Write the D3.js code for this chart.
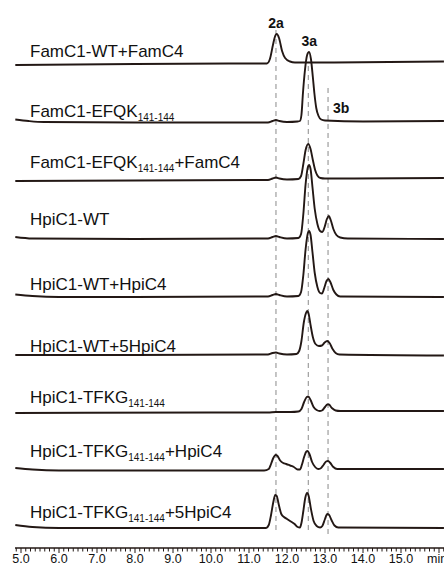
<!DOCTYPE html>
<html>
<head>
<meta charset="utf-8">
<script src="https://cdn.jsdelivr.net/npm/d3@7"></script>
<style>
  body { margin: 0; background: #fff; }
  svg { display: block; }
</style>
</head>
<body>
<svg id="chart" width="444" height="568"></svg>
<script>
//----------------------------------------------------------- DATA
// sample names (main part + subscript + suffix)
var sampleNames = [
  ["FamC1-WT+FamC4", "", ""],
  ["FamC1-EFQK", "141-144", ""],
  ["FamC1-EFQK", "141-144", "+FamC4"],
  ["HpiC1-WT", "", ""],
  ["HpiC1-WT+HpiC4", "", ""],
  ["HpiC1-WT+5HpiC4", "", ""],
  ["HpiC1-TFKG", "141-144", ""],
  ["HpiC1-TFKG", "141-144", "+HpiC4"],
  ["HpiC1-TFKG", "141-144", "+5HpiC4"]
];

// traces: [retention time (min), signal]
var famWtFam4 = [[4.85,0],[8,1],[11.4,1.5],[11.47,1.5],[11.55,6],[11.63,20],[11.68,28],[11.73,31],[11.79,27],[11.87,14],
  [11.95,7],[12.08,3.5],[12.21,2.5],[13,2.5],[16.13,3.5]];
var famEfqk = [[4.85,3.5],[5.2,2],[5.6,1],[8,0.5],[11.5,0.5],[11.62,2],[11.71,3],[11.8,2],[12.0,1],[12.28,1.5],
  [12.34,2],[12.38,8],[12.42,30],[12.47,52],[12.53,68],[12.58,71],[12.63,64],[12.68,46],[12.72,30],[12.77,15],
  [12.83,7],[12.9,3.5],[13.0,2.5],[14,1.5],[16.13,2]];
var famEfqkFam4 = [[4.85,0],[8,0.5],[11.5,1],[11.62,2.5],[11.71,3.5],[11.8,2.5],[12.0,1.5],[12.3,2],[12.37,5],
  [12.43,17],[12.49,31],[12.56,37],[12.62,32],[12.68,21],[12.74,11],[12.8,5.5],[12.88,3],[13.0,2.5],[16.13,3]];
var hpiWt = [[4.85,2],[5.3,0.5],[8,0],[11.5,0.5],[11.62,2],[11.71,3],[11.8,2],[12.0,0.5],[12.3,1],[12.37,5],
  [12.43,25],[12.49,55],[12.55,72],[12.58,74],[12.62,70],[12.67,52],[12.73,30],[12.8,15],[12.87,8],[12.93,7],
  [12.99,12],[13.05,20],[13.1,23],[13.15,19],[13.22,10],[13.3,4],[13.4,1.5],[13.6,0.5],[16.13,0]];
var hpiWtHpi4 = [[4.85,2.5],[5.3,1],[6,0],[11.5,0.5],[11.62,2],[11.71,3],[11.8,2],[12.0,0.5],[12.3,1],[12.37,5],
  [12.43,22],[12.49,48],[12.55,64],[12.58,66],[12.62,62],[12.67,45],[12.73,24],[12.8,10],[12.87,4],[12.92,3.5],
  [12.98,9],[13.04,16],[13.09,18],[13.14,15],[13.22,7],[13.3,2.5],[13.4,0.5],[16.13,0]];
var hpiWt5Hpi4 = [[4.85,0],[8,0],[11.5,0.5],[11.62,2],[11.71,2.5],[11.8,1.5],[12.0,0.5],[12.25,1],[12.32,4],
  [12.38,14],[12.44,32],[12.5,42],[12.53,44],[12.57,41],[12.62,30],[12.68,18],[12.75,11],[12.84,9],[12.92,9.5],
  [12.99,12.5],[13.06,14],[13.12,12],[13.2,6],[13.28,2],[13.38,0.5],[16.13,-0.5]];
var hpiTfkg = [[4.85,0],[10,0.5],[11.5,0.5],[11.71,1],[12.1,1],[12.3,1.5],[12.38,4],[12.45,11],[12.52,16],
  [12.56,16.5],[12.62,13],[12.7,6],[12.78,3],[12.86,2],[12.92,2.5],[13.0,6],[13.06,8.5],[13.1,8.5],[13.18,5],
  [13.28,2.5],[13.4,2],[16.13,2]];
var hpiTfkgHpi4 = [[4.85,3],[5.3,1.5],[6,0.5],[11.4,0.5],[11.52,2],[11.58,7],[11.64,13],[11.7,16],[11.75,15],
  [11.82,10.5],[11.9,8],[11.98,7],[12.08,5.5],[12.18,4],[12.28,1.5],[12.34,1.5],[12.39,6],[12.45,14],[12.51,19.5],
  [12.54,20],[12.59,17],[12.66,9],[12.74,4],[12.82,2],[12.88,2.5],[12.96,6],[13.03,9.5],[13.08,10],[13.14,8],
  [13.22,4],[13.32,2],[16.13,2]];
var hpiTfkg5Hpi4 = [[4.85,4],[5.3,2],[6,1],[11.45,1],[11.52,4],[11.58,14],[11.64,27],[11.69,34],[11.73,33],
  [11.78,25],[11.85,15],[11.92,12],[12.0,10],[12.1,7.5],[12.2,5],[12.28,2],[12.34,1.5],[12.38,6],[12.43,18],
  [12.48,31],[12.53,36],[12.57,33],[12.63,20],[12.7,8],[12.78,3],[12.87,1.5],[12.93,3],[13.0,10],[13.06,15],
  [13.1,14.5],[13.17,9],[13.25,3.5],[13.35,1.5],[16.13,1]];

var traces = [famWtFam4, famEfqk, famEfqkFam4, hpiWt, hpiWtHpi4, hpiWt5Hpi4, hpiTfkg, hpiTfkgHpi4, hpiTfkg5Hpi4];

// marked peaks
var peakNames = ["2a", "3a", "3b"];
var peakTimes = [11.71, 12.56, 13.08];

// x axis
var tickLabels = ["5.0","6.0","7.0","8.0","9.0","10.0","11.0","12.0","13.0","14.0","15.0"];

//----------------------------------------------------------- LAYOUT
var svg = d3.select("#chart");
var W = 444;

var x = d3.scaleLinear().domain([5, 15]).range([21, 401]);
var lane = d3.scalePoint().domain(d3.range(traces.length)).range([65, 529]);
var sig = d3.scaleLinear().domain([0, 100]).range([0, 100]);

var ink = "#231815";
var font = "Liberation Sans, Arial, sans-serif";

//----------------------------------------------------------- DASHED MARKERS
var dashTop = [30, 66, 88];
svg.append("g").selectAll("line")
  .data(peakTimes)
  .enter().append("line")
    .attr("x1", d => x(d)).attr("x2", d => x(d))
    .attr("y1", (d, i) => dashTop[i]).attr("y2", 534)
    .attr("stroke", "#8a8a8a")
    .attr("stroke-width", 1)
    .attr("stroke-dasharray", "5,4");

//----------------------------------------------------------- TRACES
var line = d3.line()
  .x(d => x(d[0]))
  .curve(d3.curveMonotoneX);

svg.append("g").selectAll("path")
  .data(traces)
  .enter().append("path")
    .attr("d", (d, i) => line.y(p => lane(i) - sig(p[1]))(d))
    .attr("fill", "none")
    .attr("stroke", ink)
    .attr("stroke-width", 1.9)
    .attr("stroke-linejoin", "round");

//----------------------------------------------------------- SAMPLE LABELS
// label offset above each lane
var labelLift = [8, 6, 13, 14, 7, 3, 10, 14, 11];
var labels = svg.append("g")
  .attr("font-family", font)
  .attr("fill", "#111");

sampleNames.forEach(function (n, i) {
  var t = labels.append("text")
    .attr("x", 30)
    .attr("y", lane(i) - labelLift[i])
    .attr("font-size", 17);
  t.append("tspan").text(n[0]);
  if (n[1]) {
    t.append("tspan").attr("font-size", 10).attr("dy", 4).text(n[1]);
    if (n[2]) t.append("tspan").attr("dy", -4).text(n[2]);
  }
});

//----------------------------------------------------------- PEAK LABELS
var peakLabelY = [28, 46, 113];
var peakAnchor = ["middle", "middle", "start"];
var peakDx = [0, 1, 5];
svg.append("g").selectAll("text")
  .data(peakNames)
  .enter().append("text")
    .attr("x", (d, i) => x(peakTimes[i]) + peakDx[i])
    .attr("y", (d, i) => peakLabelY[i])
    .attr("text-anchor", (d, i) => peakAnchor[i])
    .attr("font-family", font)
    .attr("font-weight", "bold")
    .attr("font-size", 14)
    .attr("fill", "#111")
    .text(d => d);

//----------------------------------------------------------- AXIS
var axisY = 548;
var minor = d3.range(4.875, 16.2, 0.125);
var ax = svg.append("g").attr("stroke", ink);
ax.append("line")
  .attr("x1", 15).attr("x2", W)
  .attr("y1", axisY).attr("y2", axisY)
  .attr("stroke-width", 1.5);
ax.selectAll("line.tk")
  .data(minor)
  .enter().append("line")
    .attr("class", "tk")
    .attr("x1", d => x(d)).attr("x2", d => x(d))
    .attr("y1", axisY)
    .attr("y2", d => axisY + (Math.abs(d - Math.round(d)) < 1e-6 ? 5 : 3.5))
    .attr("stroke-width", 1);

svg.append("g").selectAll("text")
  .data(tickLabels)
  .enter().append("text")
    .attr("x", d => x(+d))
    .attr("y", 563)
    .attr("text-anchor", "middle")
    .attr("font-family", font)
    .attr("font-size", 12.5)
    .attr("fill", "#111")
    .text(d => d);

// unit label, partly past the right edge as in the original
svg.append("text")
  .attr("x", 427).attr("y", 563)
  .attr("font-family", font)
  .attr("font-size", 12.5)
  .attr("fill", "#111")
  .text("min");
</script>
</body>
</html>
